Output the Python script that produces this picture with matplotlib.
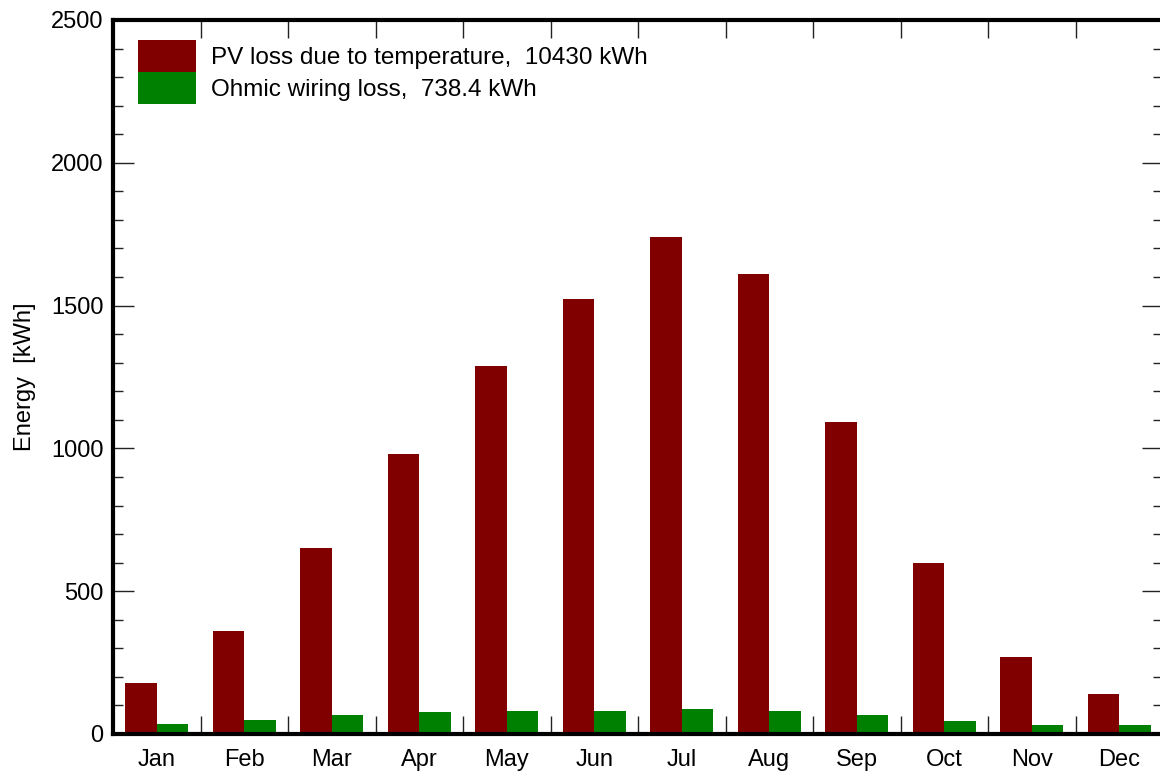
import numpy as np
import matplotlib
matplotlib.use("Agg")
import matplotlib.pyplot as plt
from matplotlib.ticker import MultipleLocator

months = ["Jan", "Feb", "Mar", "Apr", "May", "Jun",
          "Jul", "Aug", "Sep", "Oct", "Nov", "Dec"]
temp_loss = [178, 360, 650, 982, 1290, 1524, 1741, 1612, 1094, 598, 270, 140]
ohmic_loss = [36, 50, 68, 77, 82, 82, 88, 82, 68, 44, 32, 31]
temp_label = "PV loss due to temperature,  10430 kWh"
ohmic_label = "Ohmic wiring loss,  738.4 kWh"

plt.rcParams["font.family"] = ["Liberation Sans", "DejaVu Sans"]

fig = plt.figure(figsize=(11.6, 7.73), dpi=100)
# right spine sits just past the image edge, as in the original
ax = fig.add_axes([113 / 1160, 39 / 773, 1050 / 1160, 714 / 773])

x = np.arange(len(months))
w = 0.36
ax.bar(x - w / 2, temp_loss, w, color="#800000", label=temp_label)
ax.bar(x + w / 2, ohmic_loss, w, color="#008000", label=ohmic_label)

ax.set_xlim(-0.5, 11.5)
ax.set_ylim(0, 2500)

# month labels at centres, tick marks on month boundaries
ax.set_xticks(x)
ax.set_xticklabels(months, fontsize=17)
ax.set_xticks(np.arange(0.5, 11.5, 1.0), minor=True)
ax.tick_params(axis="x", which="major", length=0, pad=11)
ax.tick_params(axis="x", which="minor", direction="in", length=13,
               width=1, top=True, bottom=True, color="#222222")

ax.yaxis.set_major_locator(MultipleLocator(500))
ax.yaxis.set_minor_locator(MultipleLocator(100))
ax.tick_params(axis="y", which="major", direction="in", length=15, width=1,
               left=True, right=True, labelsize=17, pad=7, color="#222222")
ax.tick_params(axis="y", which="minor", direction="in", length=7, width=1,
               left=True, right=True, color="#222222")

for s in ax.spines.values():
    s.set_linewidth(3)
    s.set_color("black")

ax.set_ylabel("Energy  [kWh]", fontsize=17)
ax.yaxis.set_label_coords(-0.073, 0.5)

ax.legend(loc="upper left", frameon=False, fontsize=17.5,
          handlelength=2.39, handleheight=1.65, labelspacing=0.0,
          handletextpad=0.62, borderaxespad=0.0, borderpad=0.0,
          bbox_to_anchor=(25 / 1050, 1 - 20 / 714))

fig.savefig("out.png", dpi=100)
